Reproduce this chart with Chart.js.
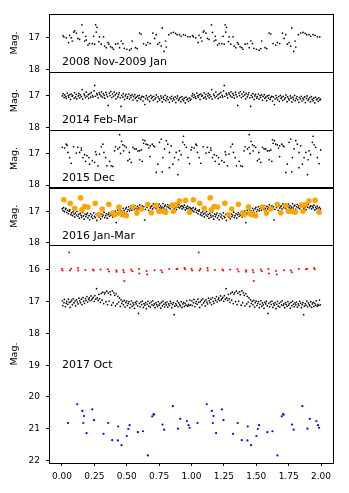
<!DOCTYPE html>
<html>
<head>
<meta charset="utf-8">
<script src="https://cdn.jsdelivr.net/npm/chart.js@4"></script>
<style>
  html, body { margin: 0; padding: 0; background: #fff; }
  #wrap { width: 349px; height: 493px; }
</style>
</head>
<body>
<div id="wrap"><canvas id="lc" width="349" height="493"></canvas></div>
<script>
// one cycle of each light curve (phase 0..1); it is plotted twice, 0..2
const p08Phase = [0.008,0.015,0.033,0.051,0.059,0.072,0.080,0.090,0.098,0.111,
  0.123,0.136,0.154,0.162,0.175,0.183,0.188,0.201,0.213,0.234,
  0.244,0.252,0.260,0.265,0.270,0.285,0.290,0.303,0.321,0.329,
  0.342,0.355,0.362,0.375,0.388,0.398,0.414,0.432,0.445,0.458,
  0.470,0.481,0.501,0.522,0.535,0.542,0.568,0.581,0.599,0.612,
  0.630,0.650,0.663,0.681,0.702,0.715,0.728,0.740,0.753,0.766,
  0.774,0.789,0.800,0.805,0.825,0.843,0.861,0.877,0.889,0.907,
  0.920,0.938,0.954,0.972,0.990];
const p08Mag = [16.93,16.97,17.00,17.15,16.92,17.00,17.10,16.82,16.78,16.85,
  17.02,17.05,16.59,16.83,17.10,16.95,17.07,17.23,17.18,17.18,
  16.95,17.20,16.59,16.82,16.67,17.12,16.97,17.20,16.97,17.26,
  17.31,17.15,17.20,17.28,17.31,17.36,17.20,17.18,17.31,17.10,
  17.18,17.33,17.36,17.39,17.34,17.10,17.31,17.34,16.85,16.88,
  17.18,17.23,17.15,17.18,16.85,17.02,16.90,17.20,17.15,17.26,
  16.69,17.43,17.10,17.29,16.90,16.85,16.83,16.86,16.90,16.90,
  16.95,16.90,16.92,16.97,16.97];

const p14Phase = [0.004,0.009,0.017,0.021,0.030,0.034,0.041,0.049,0.052,0.061,
  0.066,0.072,0.079,0.083,0.094,0.097,0.105,0.111,0.114,0.126,
  0.130,0.137,0.141,0.150,0.156,0.160,0.171,0.175,0.182,0.188,
  0.193,0.204,0.206,0.215,0.222,0.227,0.236,0.240,0.248,0.253,
  0.258,0.269,0.273,0.279,0.288,0.292,0.301,0.305,0.313,0.319,
  0.326,0.331,0.340,0.344,0.352,0.357,0.366,0.371,0.377,0.385,
  0.390,0.398,0.403,0.411,0.417,0.422,0.431,0.437,0.442,0.450,
  0.456,0.461,0.470,0.474,0.483,0.489,0.494,0.503,0.507,0.516,
  0.521,0.529,0.533,0.541,0.548,0.553,0.562,0.566,0.574,0.580,
  0.585,0.594,0.598,0.607,0.612,0.619,0.626,0.631,0.640,0.645,
  0.651,0.659,0.664,0.673,0.677,0.686,0.691,0.697,0.705,0.709,
  0.718,0.724,0.729,0.738,0.742,0.750,0.755,0.763,0.768,0.775,
  0.783,0.787,0.796,0.801,0.808,0.814,0.820,0.829,0.833,0.842,
  0.847,0.853,0.861,0.866,0.874,0.879,0.888,0.892,0.900,0.905,
  0.913,0.918,0.926,0.931,0.939,0.944,0.952,0.957,0.965,0.970,
  0.978,0.983,0.991,0.996];
const p14Mag = [17.01,16.94,17.06,16.98,17.03,17.09,16.92,17.00,17.05,16.97,
  17.12,16.95,17.02,16.99,17.08,16.91,17.04,16.96,17.10,17.01,
  16.93,17.07,16.98,17.03,16.81,17.11,16.95,17.00,17.06,16.89,
  17.02,16.97,17.09,16.94,17.05,16.90,16.99,17.04,16.85,16.68,
  17.02,16.93,16.98,17.07,16.91,16.96,17.01,16.88,17.05,16.94,
  16.99,17.08,16.90,16.97,17.03,17.31,16.92,17.00,16.87,17.06,
  16.95,17.02,16.89,16.98,17.10,16.93,17.04,16.97,16.91,17.07,
  17.34,16.99,17.05,16.94,17.12,17.01,16.96,17.08,17.03,16.95,
  17.11,17.00,17.06,16.98,17.14,17.03,16.97,17.09,17.05,17.16,
  17.01,17.08,16.99,17.12,17.06,17.02,17.17,17.04,17.28,17.10,
  17.00,17.07,17.13,17.03,17.18,16.99,17.09,17.05,17.15,17.02,
  17.11,17.07,16.98,17.19,17.04,17.10,17.14,17.01,17.08,17.20,
  17.05,17.12,16.99,17.16,17.09,17.03,17.13,17.21,17.06,17.10,
  17.02,17.17,17.08,17.13,17.04,17.22,17.09,17.01,17.15,17.11,
  17.06,17.19,17.03,17.12,17.16,17.08,17.23,17.05,17.13,17.10,
  17.18,17.07,17.14,17.11];

const p15Phase = [0.003,0.021,0.033,0.046,0.059,0.072,0.090,0.111,0.123,0.136,
  0.149,0.162,0.175,0.183,0.193,0.208,0.213,0.234,0.252,0.265,
  0.278,0.290,0.303,0.316,0.324,0.337,0.347,0.368,0.380,0.393,
  0.406,0.414,0.432,0.445,0.445,0.452,0.460,0.470,0.476,0.483,
  0.496,0.509,0.522,0.535,0.548,0.560,0.573,0.586,0.599,0.612,
  0.625,0.630,0.640,0.650,0.663,0.671,0.681,0.697,0.707,0.715,
  0.728,0.740,0.753,0.766,0.774,0.779,0.792,0.805,0.817,0.830,
  0.843,0.856,0.869,0.882,0.895,0.907,0.920,0.933,0.938,0.946,
  0.959,0.972,0.985,0.997,0.260,0.520,0.600,0.620,0.680,0.830,
  0.900,0.150,0.040];
const p15Mag = [16.81,16.83,16.71,16.97,17.13,17.31,16.79,16.99,16.81,16.97,
  16.83,17.13,17.04,17.25,17.07,17.13,17.34,17.23,17.28,17.04,
  17.39,17.02,16.79,16.71,16.97,17.13,17.39,17.25,17.39,17.41,
  16.92,16.79,16.86,16.41,16.81,17.00,16.62,16.73,16.92,16.76,
  16.81,17.23,17.18,17.28,16.81,16.86,16.86,16.92,16.92,16.89,
  16.57,16.68,16.60,16.71,16.73,16.83,16.76,16.71,16.76,16.79,
  17.60,17.34,16.65,16.55,17.58,17.13,16.86,16.60,16.71,16.97,
  16.76,17.34,17.13,16.97,17.67,16.92,17.04,16.65,16.46,16.73,
  16.81,17.13,17.32,16.89,16.95,16.97,17.20,17.25,17.10,17.45,
  17.20,16.90,16.75];

const p16Phase = [0.002,0.008,0.013,0.019,0.027,0.031,0.038,0.044,0.050,0.057,
  0.061,0.069,0.074,0.081,0.086,0.093,0.099,0.104,0.112,0.116,
  0.123,0.129,0.135,0.141,0.148,0.152,0.160,0.166,0.171,0.178,
  0.184,0.190,0.197,0.201,0.209,0.214,0.220,0.227,0.233,0.238,
  0.246,0.251,0.257,0.264,0.269,0.276,0.281,0.288,0.294,0.299,
  0.307,0.312,0.318,0.325,0.330,0.337,0.343,0.349,0.356,0.361,
  0.367,0.374,0.379,0.386,0.392,0.398,0.405,0.410,0.419,0.423,
  0.430,0.436,0.441,0.448,0.454,0.460,0.467,0.472,0.479,0.484,
  0.491,0.497,0.503,0.510,0.515,0.522,0.528,0.533,0.540,0.546,
  0.552,0.559,0.564,0.571,0.577,0.582,0.589,0.595,0.601,0.608,
  0.613,0.620,0.626,0.632,0.638,0.644,0.651,0.656,0.663,0.669,
  0.675,0.681,0.687,0.694,0.699,0.706,0.712,0.718,0.725,0.730,
  0.737,0.743,0.749,0.755,0.761,0.768,0.773,0.780,0.786,0.792,
  0.798,0.804,0.811,0.816,0.823,0.829,0.835,0.841,0.847,0.854,
  0.859,0.866,0.872,0.878,0.884,0.890,0.897,0.902,0.909,0.915,
  0.921,0.927,0.933,0.940,0.945,0.952,0.958,0.964,0.970,0.976,
  0.983,0.988,0.995];
const p16Mag = [16.92,16.98,16.89,17.02,16.95,16.91,17.04,16.97,17.08,17.00,
  16.96,17.11,17.05,17.14,17.02,17.09,17.18,17.06,17.12,17.01,
  17.16,17.10,17.22,17.07,17.13,17.19,17.04,17.15,17.25,17.09,
  17.17,17.11,17.06,17.21,17.14,17.27,17.08,17.18,17.12,17.23,
  17.05,17.16,17.20,17.10,17.29,17.13,17.07,17.19,17.15,17.24,
  17.09,17.17,17.12,17.03,17.20,17.14,17.08,17.22,17.11,17.05,
  17.16,17.09,17.13,17.02,17.18,17.07,17.11,17.00,17.36,17.06,
  16.97,17.10,17.03,16.94,17.08,16.99,17.04,16.91,16.98,17.06,
  16.93,16.88,17.01,16.95,16.86,16.99,16.92,16.84,16.97,16.90,
  16.87,16.95,16.82,16.91,16.98,16.85,16.93,16.88,16.80,16.96,
  16.89,16.83,16.92,16.86,17.28,16.94,16.81,16.88,16.84,16.97,
  16.79,16.90,16.86,16.83,16.93,16.77,16.88,16.84,16.91,16.80,
  16.95,16.85,16.78,16.89,16.83,16.92,16.87,16.76,16.90,16.84,
  16.81,16.94,16.86,16.79,16.89,16.83,16.92,16.78,16.87,16.85,
  16.80,16.91,16.84,16.88,16.95,16.82,16.87,16.79,16.90,16.86,
  16.83,16.93,16.85,16.89,16.81,16.96,16.87,16.92,16.84,16.90,
  16.97,16.88,16.93];

const p16OrangePhase = [0.015,0.064,0.098,0.144,0.154,0.175,0.201,0.257,0.285,0.311,
  0.362,0.393,0.406,0.440,0.450,0.465,0.496,0.548,0.578,0.612,
  0.663,0.689,0.728,0.748,0.774,0.800,0.851,0.861,0.877,0.907,
  0.954,0.985];
const p16OrangeMag = [16.64,16.75,16.91,16.58,16.96,16.85,16.87,16.75,17.11,16.93,
  16.78,17.06,17.11,16.87,17.06,17.11,17.14,16.87,17.06,16.93,
  16.79,17.05,16.82,17.00,17.00,17.03,16.81,17.00,16.80,16.68,
  16.66,17.03];

const p17RedPhase = [0.000,0.005,0.056,0.062,0.070,0.124,0.126,0.180,0.240,0.245,
  0.298,0.355,0.363,0.420,0.422,0.473,0.478,0.481,0.535,0.543,
  0.594,0.597,0.653,0.658,0.715,0.766,0.774,0.828,0.884,0.892,
  0.946,0.951];
const p17RedMag = [15.96,16.02,15.45,16.02,15.96,15.94,16.02,16.00,15.99,16.02,
  15.99,15.98,16.05,16.01,16.06,16.00,16.07,16.35,15.99,16.04,
  15.97,16.11,16.03,16.14,16.01,16.01,16.07,15.97,15.98,15.96,
  15.94,15.98];

const p17Phase = [0.003,0.007,0.015,0.019,0.026,0.033,0.037,0.045,0.050,0.056,
  0.063,0.068,0.076,0.080,0.088,0.093,0.101,0.106,0.112,0.119,
  0.124,0.131,0.137,0.143,0.150,0.155,0.162,0.168,0.174,0.181,
  0.186,0.193,0.198,0.206,0.211,0.217,0.224,0.230,0.236,0.242,
  0.249,0.254,0.261,0.267,0.272,0.279,0.285,0.291,0.297,0.303,
  0.310,0.315,0.322,0.328,0.333,0.340,0.346,0.352,0.358,0.364,
  0.371,0.376,0.383,0.389,0.395,0.401,0.407,0.413,0.419,0.426,
  0.431,0.438,0.444,0.450,0.456,0.462,0.469,0.474,0.481,0.487,
  0.492,0.499,0.505,0.511,0.517,0.524,0.529,0.536,0.542,0.548,
  0.554,0.560,0.566,0.573,0.578,0.585,0.591,0.597,0.603,0.609,
  0.615,0.621,0.628,0.633,0.640,0.646,0.652,0.658,0.664,0.670,
  0.677,0.682,0.689,0.695,0.701,0.707,0.713,0.719,0.726,0.731,
  0.738,0.744,0.750,0.756,0.762,0.768,0.775,0.780,0.787,0.793,
  0.799,0.805,0.811,0.817,0.824,0.829,0.836,0.842,0.848,0.854,
  0.860,0.866,0.871,0.878,0.884,0.890,0.896,0.902,0.909,0.914,
  0.921,0.927,0.933,0.939,0.945,0.951,0.958,0.963,0.970,0.976,
  0.982,0.988,0.994];
const p17Mag = [16.97,17.12,17.03,16.93,17.16,17.05,16.99,17.08,16.92,17.02,
  17.18,17.00,16.95,17.10,16.91,17.04,16.98,17.13,16.94,17.01,
  17.07,16.89,16.97,17.03,16.92,17.09,16.87,16.99,17.05,16.90,
  16.96,16.84,17.01,16.93,16.88,16.97,16.82,16.94,16.90,16.86,
  16.99,16.81,16.92,16.59,16.88,16.96,16.77,16.91,17.02,16.74,
  16.95,16.70,17.06,16.76,16.71,17.00,16.67,17.09,16.73,16.98,
  16.69,16.78,17.11,16.66,17.03,16.72,16.80,17.13,16.75,17.07,
  16.83,17.01,16.88,17.15,16.94,17.05,16.99,17.10,16.96,17.17,
  17.03,16.98,17.12,17.06,17.00,17.19,17.08,16.97,17.14,17.04,
  17.10,17.21,17.02,17.07,16.99,17.13,17.37,17.05,17.16,17.01,
  17.09,16.98,17.18,17.06,17.11,17.03,17.22,17.08,16.99,17.14,
  17.05,17.17,17.01,17.10,16.97,17.12,17.07,17.19,17.03,17.09,
  17.15,17.00,17.11,17.06,17.20,17.02,17.13,16.98,17.08,17.16,
  17.04,17.10,17.01,17.17,17.07,17.12,16.99,17.05,17.19,17.09,
  17.03,17.41,17.14,17.06,17.11,16.98,17.16,17.04,17.09,17.13,
  17.00,17.18,17.07,17.02,17.15,17.05,17.11,16.97,17.14,17.08,
  17.12,16.95,17.10];

const p17BluePhase = [0.046,0.118,0.157,0.170,0.165,0.190,0.234,0.247,0.321,0.357,
  0.388,0.434,0.432,0.460,0.501,0.512,0.522,0.586,0.625,0.663,
  0.697,0.707,0.712,0.776,0.789,0.856,0.895,0.913,0.964,0.977,
  0.985];
const p17BlueMag = [20.82,20.23,20.44,20.60,20.82,21.14,20.39,20.73,21.16,20.82,
  21.36,20.93,21.37,21.52,21.23,21.01,20.89,21.11,21.08,21.84,
  20.61,20.54,20.56,20.87,21.03,20.29,21.00,20.69,20.76,20.89,
  20.97];

const panelLabels = ['2008 Nov-2009 Jan', '2014 Feb-Mar', '2015 Dec', '2016 Jan-Mar', '2017 Oct'];
const panelLabelMag = [17.77, 17.77, 17.77, 17.77, 19.0];
const panelRange = [[16.25, 18.07], [16.25, 18.07], [16.25, 18.07], [16.25, 18.07], [15.22, 22.08]];
const magTicksSmall = [17, 18];
const magTicksBig = [16, 17, 18, 19, 20, 21, 22];
const phaseTicks = [0, 0.25, 0.5, 0.75, 1, 1.25, 1.5, 1.75, 2];

// plot each cycle at phase and phase + 1
function fold(phase, mag) {
  const pts = [];
  const n = Math.min(phase.length, mag.length);
  for (let k = 0; k < 2; k++) {
    for (let i = 0; i < n; i++) pts.push({ x: phase[i] + k, y: mag[i] });
  }
  return pts;
}

const font = 'DejaVu Sans';
const panelIds = ['y1', 'y2', 'y3', 'y4', 'y5'];

function dots(data, axis, color, r, order) {
  return {
    data: data, yAxisID: axis,
    backgroundColor: color, pointBackgroundColor: color,
    pointRadius: r, pointBorderWidth: 0, pointHoverRadius: r,
    order: order
  };
}

function magAxis(i) {
  const ticks = i === 4 ? magTicksBig : magTicksSmall;
  return {
    type: 'linear', position: 'left', stack: 'mag',
    stackWeight: panelRange[i][1] - panelRange[i][0],
    weight: 5 - i,
    reverse: true, min: panelRange[i][0], max: panelRange[i][1],
    border: { display: false },
    grid: { display: true, drawOnChartArea: false, drawTicks: true, tickLength: 3, tickColor: '#000', tickWidth: 1 },
    ticks: { color: '#000', font: { family: font, size: 9 }, padding: 6 },
    title: { display: true, text: 'Mag.', color: '#000', font: { family: font, size: 9.5 }, padding: { top: 9, bottom: 0 } },
    afterBuildTicks: s => { s.ticks = ticks.map(v => ({ value: v })); },
    afterFit: s => { s.width = 49; }
  };
}

const scales = {
  x: {
    type: 'linear', position: 'bottom', min: -0.1, max: 2.1,
    border: { display: false },
    grid: { display: true, drawOnChartArea: false, drawTicks: true, tickLength: 3, tickColor: '#000', tickWidth: 1 },
    ticks: { color: '#000', font: { family: font, size: 9 }, padding: 5, autoSkip: false, maxRotation: 0,
      callback: v => Number(v).toFixed(2) },
    afterBuildTicks: s => { s.ticks = phaseTicks.map(v => ({ value: v })); },
    afterFit: s => { s.height = 30; }
  }
};
panelIds.forEach((id, i) => { scales[id] = magAxis(i); });

const panelFrames = {
  id: 'panelFrames',
  afterDatasetsDraw(chart) {
    const { ctx, chartArea: a } = chart;
    ctx.save();
    ctx.strokeStyle = '#000';
    ctx.lineWidth = 1;
    panelIds.forEach(id => {
      const s = chart.scales[id];
      ctx.strokeRect(Math.round(a.left) + 0.5, Math.round(s.top) + 0.5,
        Math.round(a.right - a.left) - 1, Math.round(s.bottom - s.top));
    });
    ctx.fillStyle = '#000';
    ctx.font = '11px "' + font + '"';
    ctx.textAlign = 'left';
    ctx.textBaseline = 'middle';
    const x0 = chart.scales.x.getPixelForValue(0);
    panelIds.forEach((id, i) => {
      ctx.fillText(panelLabels[i], x0, chart.scales[id].getPixelForValue(panelLabelMag[i]));
    });
    ctx.restore();
  }
};

new Chart(document.getElementById('lc'), {
  type: 'scatter',
  data: {
    datasets: [
      dots(fold(p08Phase, p08Mag), 'y1', '#000', 0.85, 1),
      dots(fold(p14Phase, p14Mag), 'y2', '#000', 0.85, 1),
      dots(fold(p15Phase, p15Mag), 'y3', '#000', 0.85, 1),
      dots(fold(p16OrangePhase, p16OrangeMag), 'y4', '#ffa500', 2.8, 0),
      dots(fold(p16Phase, p16Mag), 'y4', '#000', 0.85, 1),
      dots(fold(p17RedPhase, p17RedMag), 'y5', '#ff0000', 1.0, 1),
      dots(fold(p17Phase, p17Mag), 'y5', '#000', 0.85, 1),
      dots(fold(p17BluePhase, p17BlueMag), 'y5', '#0000ff', 1.1, 1)
    ]
  },
  options: {
    responsive: false,
    animation: false,
    devicePixelRatio: 1,
    layout: { padding: { top: 14, right: 15, bottom: 0, left: 0 } },
    plugins: { legend: { display: false }, tooltip: { enabled: false } },
    scales: scales
  },
  plugins: [panelFrames]
});
</script>
</body>
</html>
